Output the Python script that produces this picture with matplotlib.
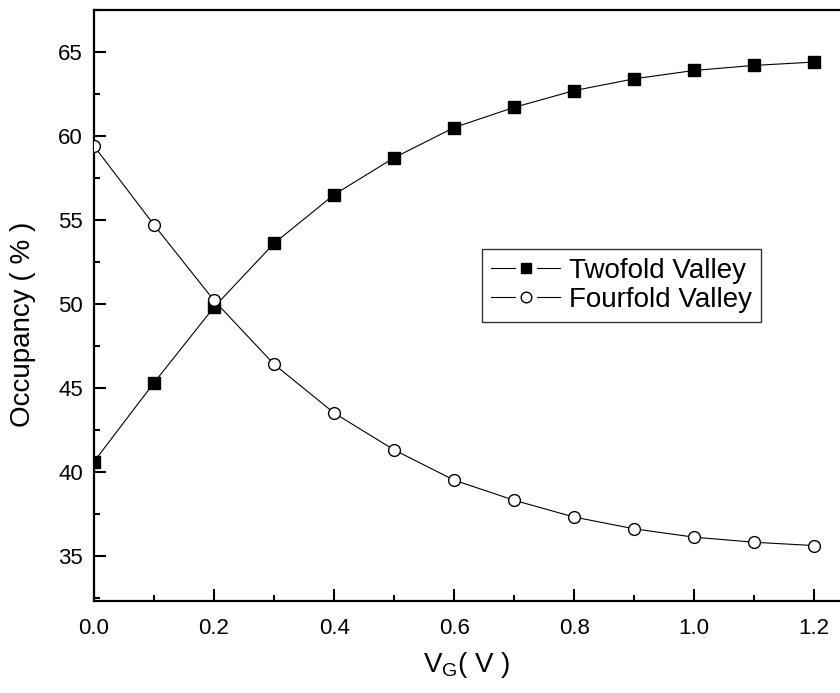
import matplotlib
matplotlib.use("Agg")
import matplotlib.pyplot as plt
from matplotlib.legend_handler import HandlerBase
from matplotlib.lines import Line2D
from matplotlib.ticker import MultipleLocator

plt.rcParams['font.family'] = ['Liberation Sans', 'DejaVu Sans']
plt.rcParams['mathtext.default'] = 'regular'

vg = [0.0, 0.1, 0.2, 0.3, 0.4, 0.5, 0.6, 0.7, 0.8, 0.9, 1.0, 1.1, 1.2]
twofold = [40.6, 45.3, 49.8, 53.6, 56.5, 58.7, 60.5, 61.7, 62.7, 63.4, 63.9, 64.2, 64.4]
fourfold = [59.4, 54.7, 50.2, 46.4, 43.5, 41.3, 39.5, 38.3, 37.3, 36.6, 36.1, 35.8, 35.6]


class GapHandler(HandlerBase):
    # line - marker - line, with a small gap either side of the marker
    def create_artists(self, legend, orig_handle, xdescent, ydescent,
                       width, height, fontsize, trans):
        y = height / 2 - ydescent
        x0 = -xdescent
        xm = x0 + width / 2
        gap = 0.16 * width
        color = orig_handle.get_color()
        lw = orig_handle.get_linewidth()
        l1 = Line2D([x0, xm - gap], [y, y], color=color, lw=lw)
        l2 = Line2D([xm + gap, x0 + width], [y, y], color=color, lw=lw)
        m = Line2D([xm], [y], linestyle='none', marker=orig_handle.get_marker(),
                   ms=orig_handle.get_markersize() * 0.9,
                   mfc=orig_handle.get_markerfacecolor(),
                   mec=orig_handle.get_markeredgecolor(),
                   mew=orig_handle.get_markeredgewidth())
        for a in (l1, l2, m):
            a.set_transform(trans)
        return [l1, l2, m]


fig = plt.figure(figsize=(8.4, 6.93), dpi=100)
ax = fig.add_axes([94 / 840, 92 / 693, 1 - 94 / 840, 591 / 693])

ax.plot(vg, twofold, color='black', lw=0.8, marker='s', ms=8,
        mfc='black', mec='black', label='Twofold Valley', zorder=3)
ax.plot(vg, fourfold, color='black', lw=0.8, marker='o', ms=8.5,
        mfc='white', mec='black', mew=1.0, label='Fourfold Valley', zorder=4)

ax.set_xlim(0, 1.243)
ax.set_ylim(32.3, 67.5)
ax.xaxis.set_major_locator(MultipleLocator(0.2))
ax.xaxis.set_minor_locator(MultipleLocator(0.1))
ax.yaxis.set_major_locator(MultipleLocator(5))
ax.yaxis.set_minor_locator(MultipleLocator(2.5))
ax.xaxis.set_major_formatter(plt.FuncFormatter(lambda v, p: f"{v:.1f}"))

ax.tick_params(which='both', direction='in', width=1.5, labelsize=16,
               top=False, right=False)
ax.tick_params(which='major', length=8.5)
ax.tick_params(which='minor', length=4.5)
ax.tick_params(axis='x', pad=12)
ax.tick_params(axis='y', pad=8)
for s in ['left', 'bottom', 'top']:
    ax.spines[s].set_linewidth(1.6)
ax.spines['right'].set_visible(False)

ax.set_xlabel('V$_G$( V )', fontsize=20, labelpad=8)
ax.set_ylabel('Occupancy ( % )', fontsize=20)
ax.yaxis.set_label_coords(-0.078, 0.469)

leg = ax.legend(loc='upper left', bbox_to_anchor=((482 - 94) / 746, 1 - (249 - 10) / 591),
                fontsize=20, frameon=True, fancybox=False, edgecolor='black',
                handlelength=2.5, handletextpad=0.3, borderpad=0.32,
                labelspacing=0.12, borderaxespad=0,
                handler_map={Line2D: GapHandler()})
leg.get_frame().set_linewidth(1.0)

fig.savefig('out.png', dpi=100)
